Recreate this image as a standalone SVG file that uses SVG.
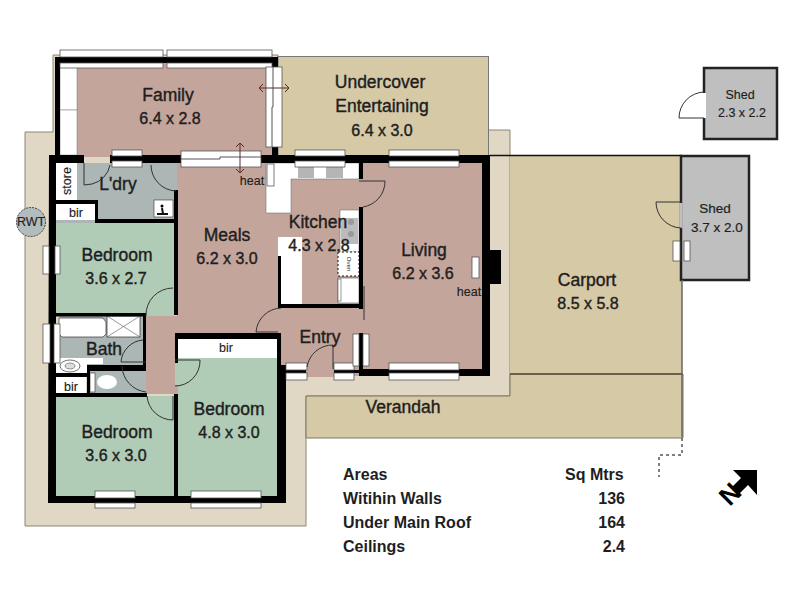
<svg xmlns="http://www.w3.org/2000/svg" width="800" height="600" viewBox="0 0 800 600">
<style>
text{font-family:"Liberation Sans",Arial,sans-serif;fill:#1e1e1e;text-anchor:middle}
.l{font-size:16px;stroke:#1e1e1e;stroke-width:.4px}
.n{font-size:17.500px;stroke:#1e1e1e;stroke-width:.4px}
.s{font-size:13.500px;stroke:#1e1e1e;stroke-width:.2px}
.t{font-size:12.500px;stroke:#1e1e1e;stroke-width:.15px}
.a{font-size:16px;font-weight:700;text-anchor:start}
.r{font-size:16px;font-weight:700;text-anchor:end}
.w{fill:#000}
.g{fill:#fff;stroke:#555;stroke-width:.8}
.d{fill:none;stroke:#333;stroke-width:1}
.pink{fill:#c4a59b}.green{fill:#b0cbb6}.grey{fill:#abb6b5}.shed{fill:#bfbfbf}.tan{fill:#d6c9a6}.white{fill:#fff}
</style>
<g id="site">
<path d="M53 55H278V130H510V396H306V526H25V132H53Z" fill="#e0d8c5" stroke="#8c8672" stroke-width="1"/>
</g>
<g id="undercover"><rect class="tan" x="278" y="56.500" width="210.500" height="99" stroke="#777" stroke-width="1"/><text class="n" x="380" y="88">Undercover</text><text class="n" x="382" y="112">Entertaining</text><text class="l" x="382" y="136">6.4 x 3.0</text></g>
<g id="carport"><path class="tan" d="M510 156H682V375H510Z"/><path d="M490 155.500H682" stroke="#111" stroke-width="1.500"/><text class="n" x="587" y="286">Carport</text><text class="l" x="588" y="309">8.5 x 5.8</text></g>
<g id="verandah"><path class="tan" d="M510 374H683V438H306V396H510Z" stroke="#7c7662" stroke-width="1"/><path d="M510 374H683" stroke="#2a2414" stroke-width="1"/><text class="n" x="403" y="412.500">Verandah</text></g>
<g id="family"><rect class="pink" x="60" y="63" width="214" height="94"/><rect class="white" x="60" y="67" width="17" height="43" stroke="#777" stroke-width=".5"/><rect class="white" x="60" y="110" width="17" height="45" stroke="#777" stroke-width=".5"/><text class="n" x="168" y="101">Family</text><text class="l" x="170" y="124">6.4 x 2.8</text></g>
<g id="main-rooms"><rect class="pink" x="177" y="160" width="306" height="210"/><rect class="pink" x="146" y="316" width="32" height="78"/><rect class="pink" x="286" y="369" width="74" height="7"/><rect class="pink" x="306" y="369" width="28" height="8"/></g>
<g id="laundry"><path class="grey" d="M56 163H177V224H56Z"/><rect class="white" x="56" y="163" width="21" height="37"/><rect class="white" x="56" y="204" width="39" height="16"/><rect class="white" x="154" y="200" width="19" height="17" stroke="#333" stroke-width=".6"/><path d="M157 214h11M162 208l1 6" stroke="#111" stroke-width="2"/><circle cx="162" cy="206" r="1.500"/><text class="t" transform="translate(71 181) rotate(-90)" x="0" y="0">store</text><text class="t" x="76" y="217">bir</text><text class="n" x="118" y="190">L'dry</text></g>
<g id="bedroom1"><rect class="green" x="56" y="223" width="118" height="92"/><rect class="green" x="146" y="288" width="28" height="28"/><text class="n" x="117" y="260.500">Bedroom</text><text class="l" x="116" y="284">3.6 x 2.7</text></g>
<g id="bath"><rect class="grey" x="60" y="316" width="84" height="54"/><rect class="grey" x="88" y="369" width="58" height="26"/><path class="white" d="M59 318H103L106 322V334L103 337H62L59 334Z" stroke="#333" stroke-width=".7"/><rect class="white" x="107" y="316" width="33" height="21" stroke="#333" stroke-width=".7"/><path d="M107 316L140 337M140 316L107 337" stroke="#555" stroke-width=".6"/><path class="white" d="M56 358H103V364H87V373H56Z"/><ellipse cx="70" cy="366" rx="10" ry="6" fill="#fff" stroke="#333" stroke-width=".7"/><ellipse cx="70" cy="366" rx="5" ry="3" fill="#ddd" stroke="#333" stroke-width=".5"/><rect class="white" x="90" y="373" width="5" height="19" stroke="#333" stroke-width=".6"/><ellipse cx="107" cy="382" rx="10" ry="7" fill="#fff"/><rect class="white" x="56" y="377" width="30" height="19"/><text class="t" x="71" y="391">bir</text><text class="n" x="104" y="355">Bath</text></g>
<g id="bedroom3"><rect class="green" x="56" y="396" width="118" height="100"/><text class="n" x="117" y="437.500">Bedroom</text><text class="l" x="116" y="461">3.6 x 3.0</text></g>
<g id="bedroom2"><rect class="green" x="178" y="339" width="100" height="157"/><rect class="green" x="175" y="361" width="25" height="24"/><rect class="white" x="178" y="339" width="99" height="19"/><text class="t" x="226" y="352">bir</text><text class="n" x="229" y="414.500">Bedroom</text><text class="l" x="229" y="438">4.8 x 3.0</text></g>
<g id="kitchen">
<path class="white" d="M266 163H359V179H291V213H266Z" stroke="#666" stroke-width=".5"/>
<rect x="298" y="167" width="45" height="11" fill="#b5b5b5"/><rect class="white" x="314" y="167" width="12" height="11"/>
<rect class="white" x="267" y="164" width="7" height="22" stroke="#444" stroke-width=".7"/>
<rect class="white" x="340" y="210" width="19" height="42" stroke="#666" stroke-width=".5"/><rect x="341" y="218" width="17" height="26" fill="#bbb"/><circle cx="351" cy="222" r="3" fill="#999"/><circle cx="351" cy="234" r="3" fill="#999"/>
<rect x="338" y="252" width="21" height="24" fill="#fff" stroke="#111" stroke-width="1" stroke-dasharray="2 2"/><text transform="translate(349 264) rotate(90)" font-size="6" y="2">Oven</text>
<rect class="white" x="338" y="278" width="21" height="25" stroke="#555" stroke-width=".6"/><rect class="white" x="338" y="279" width="3" height="22" stroke="#555" stroke-width=".6"/>
<rect class="white" x="278" y="237" width="24" height="67"/>
</g>
<g id="walls" class="w">
<path d="M55 57H276V63H60V155H55Z"/>
<path d="M272 57h6v10h-6zM272 147h6v10h-6z"/>
<path d="M49 155H84V163H56V496H277V503H48Z"/>
<path d="M277 365h9v138h-9zM175 333h106v6H178v24h-3z"/>
<path d="M110 155H489V163H110Z"/>
<path d="M482 155h8v221h-8zM359 369h131v7H359z"/>
<path d="M286 370h20v3h-20zM334 370h26v3h-26z"/>
<path d="M489 250h12v34h-12z"/>
<path d="M174 190h4v125h-4zM174 394h4v102h-4z"/>
<path d="M56 200h42v4H56zM95 200h3v23h-3zM95 219h82v4H95zM56 313h90v3.500H56zM143 313h3v57h-3zM87 365h59v6H87zM87 365h3v32h-3zM87 393h60v4H87zM56 373h31v4H56zM56 393h31v4H56z"/>
<path d="M359 163h4v16h-4zM359 207h4v102h-4zM278 304h85v4h-85zM278 256h3v52h-3zM359 333h4v37h-4zM277 333h4v35h-4z"/>
</g>
<g id="windows">
<rect class="g" x="60" y="50" width="103" height="7"/><rect class="g" x="60" y="63" width="103" height="5"/><rect class="g" x="167" y="50" width="105" height="7"/><rect class="g" x="167" y="63" width="105" height="5"/>
<rect class="g" x="266" y="67" width="16" height="80"/><path d="M273 67V107H272V147" fill="none" stroke="#555" stroke-width="1"/>
<rect class="g" x="112" y="150" width="30" height="6"/><rect class="g" x="112" y="161" width="30" height="6"/>
<rect class="g" x="181" y="151" width="80" height="16"/><path d="M181 159H220V157H261" fill="none" stroke="#555" stroke-width="1"/>
<rect class="g" x="295" y="150" width="50" height="6"/><rect class="g" x="295" y="161" width="50" height="6"/>
<rect class="g" x="389" y="150" width="70" height="6"/><rect class="g" x="389" y="161" width="70" height="6"/>
<rect class="g" x="43" y="246" width="6" height="28"/><rect class="g" x="55" y="246" width="5" height="28"/>
<rect class="g" x="43" y="324" width="7" height="39"/><rect class="g" x="54" y="324" width="6" height="39"/>
<rect class="g" x="95" y="491" width="40" height="7"/><rect class="g" x="95" y="503" width="40" height="5"/>
<rect class="g" x="191" y="491" width="70" height="7"/><rect class="g" x="191" y="503" width="70" height="5"/>
<rect class="g" x="286" y="363" width="21" height="7"/><rect class="g" x="286" y="373" width="21" height="7"/>
<rect class="g" x="334" y="363" width="20" height="7"/><rect class="g" x="334" y="373" width="20" height="7"/>
<rect class="g" x="389" y="363" width="70" height="7"/><rect class="g" x="389" y="373" width="70" height="7"/>
<rect class="g" x="353" y="334" width="6" height="32"/><rect class="g" x="363" y="334" width="6" height="32"/>
<rect class="g" x="472" y="257" width="7" height="21"/>
</g>
<g id="doors" class="d">
<path d="M84 163V185L92 184A24 24 0 0 0 110 165"/>
<path d="M151 165A26 26 0 0 0 176 191"/>
<path d="M173 288A27 27 0 0 0 146 316"/>
<path d="M121 362A24 24 0 0 1 143 340M121 362H146"/>
<path d="M122 366A27 27 0 0 0 146 392"/>
<path d="M147 396A26 26 0 0 0 173 420V396"/>
<path d="M175 360H200A25 25 0 0 1 175 386"/>
<path d="M281 308A26 26 0 0 0 256 332H278"/>
<path d="M385 181A26 26 0 0 1 363 207M359 181H385"/>
<path d="M364 286V320"/>
<path d="M333 369V345A26 26 0 0 0 307 367"/>
<path d="M240 143V173M236 147L240 143L244 147M236 169L240 173L244 169" stroke="#5a2a2a"/>
<path d="M259 88H289M263 84L259 88L263 92M285 84L289 88L285 92" stroke="#5a2a2a"/>
</g>
<g id="labels">
<text class="n" x="227" y="240.500">Meals</text><text class="l" x="227" y="264">6.2 x 3.0</text>
<text class="n" x="318" y="227.500">Kitchen</text><text class="l" x="319" y="251">4.3 x 2.8</text>
<text class="n" x="424" y="256">Living</text><text class="l" x="423" y="279">6.2 x 3.6</text>
<text class="n" x="320" y="343">Entry</text>
<text class="t" x="252" y="185">heat</text><text class="t" x="469" y="296">heat</text>
</g>
<g id="shed-small"><rect class="shed" x="704" y="68" width="73" height="71" stroke="#222" stroke-width="2.500"/><rect class="white" x="702" y="93" width="4" height="25"/><path class="d" d="M704 92A26 26 0 0 0 679 118H704"/><text class="t" x="740" y="99">Shed</text><text class="t" x="742" y="117">2.3 x 2.2</text></g>
<g id="shed-large"><rect class="shed" x="681" y="156" width="68" height="124" stroke="#222" stroke-width="2.500"/><rect class="shed" x="679.500" y="203" width="3" height="25"/><path class="d" d="M656 202H681M656 202A26 26 0 0 0 681 228"/><rect class="g" x="673" y="241" width="7" height="20"/><rect class="g" x="684" y="241" width="6" height="20"/><path d="M682 280V437" stroke="#666" stroke-width="1.500"/><text class="s" x="715" y="213">Shed</text><text class="s" x="717" y="232">3.7 x 2.0</text></g>
<g id="rwt"><circle cx="31" cy="222" r="14.500" fill="#b3bcbc" stroke="#444" stroke-width="1" stroke-dasharray="2 1"/><text class="t" x="31" y="226">RWT</text></g>
<g id="boundary"><path d="M682 438V455H659V477" fill="none" stroke="#555" stroke-width="1.500" stroke-dasharray="3 3"/></g>
<g id="north"><path class="w" d="M733 470H757V495L748 485L739 494L732 487L741 478Z"/><text transform="translate(730 494) rotate(-45)" y="9" font-size="26" font-weight="700" style="fill:#000">N</text></g>
<g id="areas"><text class="a" x="343" y="480">Areas</text><text class="a" x="343" y="504">Witihin Walls</text><text class="a" x="343" y="528">Under Main Roof</text><text class="a" x="343" y="552">Ceilings</text><text class="a" x="565" y="480">Sq Mtrs</text><text class="r" x="625" y="504">136</text><text class="r" x="625" y="528">164</text><text class="r" x="625" y="552">2.4</text></g>
</svg>
